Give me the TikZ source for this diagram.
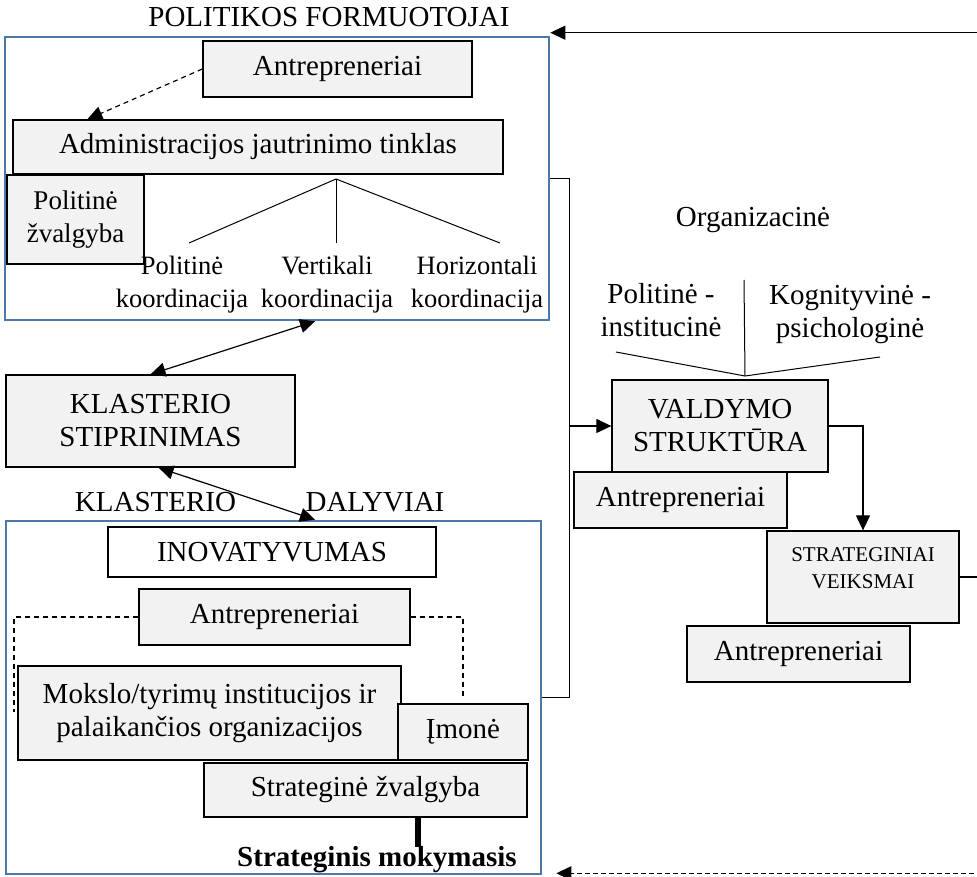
\documentclass[tikz,border=0pt]{standalone}
\usepackage{fontspec}
\setmainfont{Liberation Serif}
\usetikzlibrary{arrows.meta}
\definecolor{frameblue}{RGB}{76,120,170}
\definecolor{boxgrey}{RGB}{242,242,242}
\begin{document}
\begin{tikzpicture}[x=1pt,y=-1pt,
  txt/.style={font=\fontsize{29}{33}\selectfont, align=center, inner sep=0pt},
  smalltxt/.style={txt, font=\fontsize{26.5}{33}\selectfont},
  gbox/.style={txt, draw=black, line width=1.3pt, fill=boxgrey},
  frame/.style={draw=frameblue, line width=2.6pt, inner sep=0pt},
  conn/.style={draw=black, line width=1.2pt},
  thinline/.style={draw=black, line width=1pt},
  arr/.style={conn, -{Triangle[length=15pt,width=14pt]}},
  darr/.style={conn, {Triangle[length=15pt,width=14pt]}-{Triangle[length=15pt,width=14pt]}},
  dashline/.style={draw=black, line width=1.1pt, dash pattern=on 5pt off 4pt}
]
\useasboundingbox (0,0) rectangle (977,877);

% policy makers
\node[frame, minimum width=544pt, minimum height=283pt] (pol) at (277,178.5) {};
\node[txt] (poltitle) at (329,17) {POLITIKOS FORMUOTOJAI};
\node[gbox, minimum width=269pt, minimum height=56pt] (antA) at (337.5,69) {Antrepreneriai};
\node[gbox, minimum width=490pt, minimum height=54pt] (adm) at (258,147) {Administracijos jautrinimo tinklas};
\node[gbox, font=\fontsize{27}{33}\selectfont, minimum width=137pt, minimum height=89pt] (polzv) at (75.5,219.5) {Politinė\\žvalgyba};
\draw[arr, dash pattern=on 5pt off 4pt] (antA.west) -- ([xshift=75pt]adm.north west);

% coordination tree
\coordinate (tr) at (336,179);
\coordinate (t1) at (189,243);
\coordinate (t2) at (336,243);
\coordinate (t3) at (500,243);
\draw[thinline] (t1) -- (tr) -- (t3);
\draw[thinline] (tr) -- (t2);
\node[smalltxt] (k1) at (182,285) {Politinė\\koordinacija};
\node[smalltxt] (k2) at (327,285) {Vertikali\\koordinacija};
\node[smalltxt] (k3) at (477,285) {Horizontali\\koordinacija};

% cluster strengthening
\node[gbox, minimum width=289pt, minimum height=92pt] (kls) at (150.5,421) {KLASTERIO\\STIPRINIMAS};
\draw[darr] ([xshift=38pt]pol.south) -- (kls.north);

% cluster participants
\node[txt] (kl1) at (155.5,502) {KLASTERIO};
\node[txt] (kl2) at (375,502) {DALYVIAI};
\node[frame, minimum width=535pt, minimum height=353pt] (dal) at (273.5,697.5) {};
\draw[darr] ([xshift=8pt]kls.south) -- ([xshift=41.5pt]dal.north);

\node[gbox, fill=white, minimum width=328pt, minimum height=50pt] (inov) at (272,552) {INOVATYVUMAS};
\node[gbox, minimum width=271pt, minimum height=56pt] (antB) at (274.5,617) {Antrepreneriai};
\node[gbox, minimum width=383pt, minimum height=94pt] (mok) at (209.5,713) {Mokslo/tyrimų institucijos ir\\palaikančios organizacijos};
\node[gbox, minimum width=130pt, minimum height=56pt] (imo) at (463,732) {Įmonė};
\node[gbox, minimum width=323pt, minimum height=54pt] (szv) at (365.5,790) {Strateginė žvalgyba};
\coordinate (brl) at (14,712);
\draw[dashline] (antB.west) -| (brl);
\draw[dashline] (antB.east) -| ([yshift=4pt]imo.north);

\node[txt, font=\fontsize{29}{33}\selectfont\bfseries] (smk) at (377,860) {Strateginis mokymasis};
\coordinate (th) at ([xshift=52.5pt]szv.south);
\draw[line width=6pt] (th) -- (th |- smk.north);

% governance structure
\coordinate (bus) at ([xshift=19pt]pol.east);
\draw[conn] (pol.east) -- (bus) |- (dal.east);
\node[gbox, minimum width=216pt, minimum height=92pt] (val) at (720,426) {VALDYMO\\STRUKTŪRA};
\draw[arr] (bus |- val.west) -- (val.west);

\node[txt] (org) at (753,220) {Organizacinė};
\node[txt] (pi) at (661,310) {Politinė -\\institucinė};
\node[txt] (kp) at (850,315) {Kognityvinė -\\psichologinė};
\coordinate (apex) at (745,376);
\coordinate (vtop) at (744,280);
\coordinate (vl) at (616,352);
\coordinate (vr) at (880,357);
\draw[thinline] (vl) -- (apex) -- (vr);
\draw[thinline] (vtop) -- (apex);

\node[gbox, minimum width=213pt, minimum height=56pt] (antC) at (680.5,500) {Antrepreneriai};

\node[gbox, minimum width=192pt, minimum height=92pt] (sa) at (863,577) {};
\node[txt, font=\fontsize{21}{27}\selectfont] (satxt) at ([yshift=8.5pt]sa.center) {STRATEGINIAI\\VEIKSMAI};
\draw[arr] (val.east) -| (sa.north);

\node[gbox, minimum width=223pt, minimum height=56pt] (antD) at (798.5,654) {Antrepreneriai};

% feedback lines leaving on the right
\coordinate (redge) at (990,0);
\draw[conn] (sa.east) -- (sa.east -| redge);
\coordinate (ptop) at ([yshift=3pt]pol.north east);
\draw[arr] (ptop -| redge) -- (ptop);
\coordinate (pbot) at ([xshift=14pt,yshift=2pt]dal.south east);
\draw[arr, dash pattern=on 5pt off 3pt] (pbot -| redge) -- (pbot);
\end{tikzpicture}
\end{document}
